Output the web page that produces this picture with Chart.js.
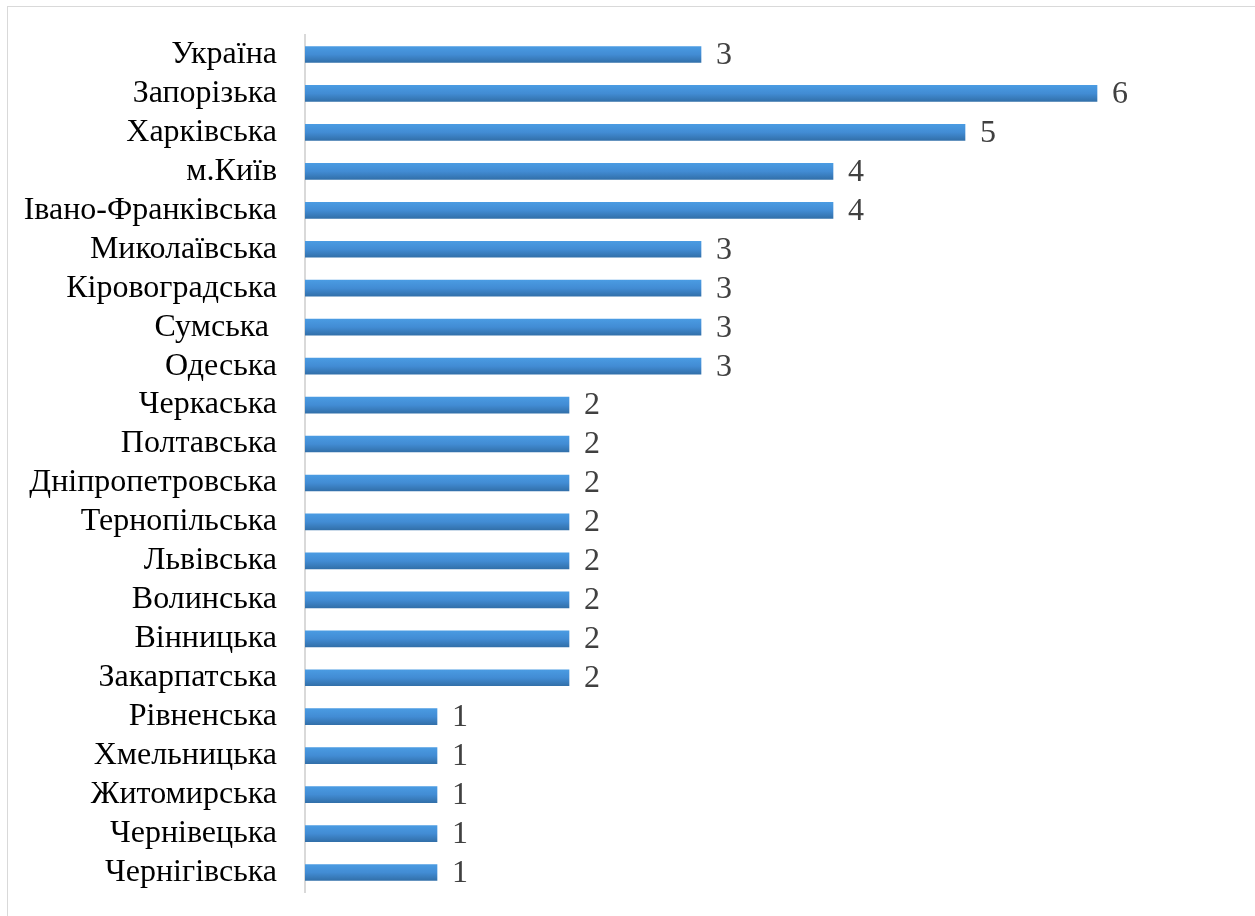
<!DOCTYPE html>
<html lang="uk">
<head>
  <meta charset="UTF-8" />
  <title>Області</title>
  <script src="https://cdn.jsdelivr.net/npm/chart.js"></script>
  <style>
    body { margin: 0; background: #fff; overflow: hidden; }
    #wrap { position: relative; width: 1255px; height: 916px; }
    #frame {
      position: absolute; left: 7px; top: 6px; right: -20px; bottom: -20px;
      border: 1px solid #d9d9d9; pointer-events: none;
    }
  </style>
</head>
<body>
<div id="wrap">
  <canvas id="grafico" width="1255" height="916"></canvas>
  <div id="frame"></div>
</div>
<script>
const regions = [
  'Україна', 'Запорізька', 'Харківська', 'м.Київ', 'Івано-Франківська',
  'Миколаївська', 'Кіровоградська', 'Сумська ', 'Одеська', 'Черкаська',
  'Полтавська', 'Дніпропетровська', 'Тернопільська', 'Львівська', 'Волинська',
  'Вінницька', 'Закарпатська', 'Рівненська', 'Хмельницька', 'Житомирська',
  'Чернівецька', 'Чернігівська'
];
const counts = [3, 6, 5, 4, 4, 3, 3, 3, 3, 2, 2, 2, 2, 2, 2, 2, 2, 1, 1, 1, 1, 1];

const serif = '"Liberation Serif", "Times New Roman", serif';

// підписи значень справа від смуг
const valueLabels = {
  id: 'valueLabels',
  afterDatasetsDraw(chart) {
    const ctx = chart.ctx;
    const meta = chart.getDatasetMeta(0);
    ctx.save();
    ctx.font = '32px ' + serif;
    ctx.fillStyle = '#404040';
    ctx.textAlign = 'left';
    ctx.textBaseline = 'middle';
    meta.data.forEach((bar, i) => ctx.fillText(String(counts[i]), bar.x + 15, bar.y + 1));
    ctx.restore();
  }
};

function barGradient(c) {
  const y = c.chart.scales.y;
  if (!y || c.dataIndex === undefined) return '#3f87cf';
  const mid = y.getPixelForValue(c.dataIndex);
  if (!isFinite(mid)) return '#3f87cf';
  const g = c.chart.ctx.createLinearGradient(0, mid - 8, 0, mid + 8);
  g.addColorStop(0, '#4a9be2');
  g.addColorStop(0.5, '#428cd4');
  g.addColorStop(1, '#3270aa');
  return g;
}

new Chart(document.getElementById('grafico'), {
  type: 'bar',
  data: {
    labels: regions,
    datasets: [{ data: counts, backgroundColor: barGradient, barThickness: 16 }]
  },
  options: {
    indexAxis: 'y',
    responsive: false,
    animation: false,
    layout: { padding: { top: 35, bottom: 24, right: 26, left: 0 } },
    plugins: { legend: { display: false }, tooltip: { enabled: false } },
    scales: {
      x: { display: false, min: 0, max: 7 },
      y: {
        afterFit(scale) {
          scale.width = 305;
          scale.paddingTop = 0;
          scale.paddingBottom = 0;
        },
        grid: { display: false, drawTicks: false },
        border: { display: true, color: '#d9d9d9', width: 2 },
        ticks: { font: { family: serif, size: 32 }, color: '#000', padding: 28, autoSkip: false }
      }
    }
  },
  plugins: [valueLabels]
});
</script>
</body>
</html>
